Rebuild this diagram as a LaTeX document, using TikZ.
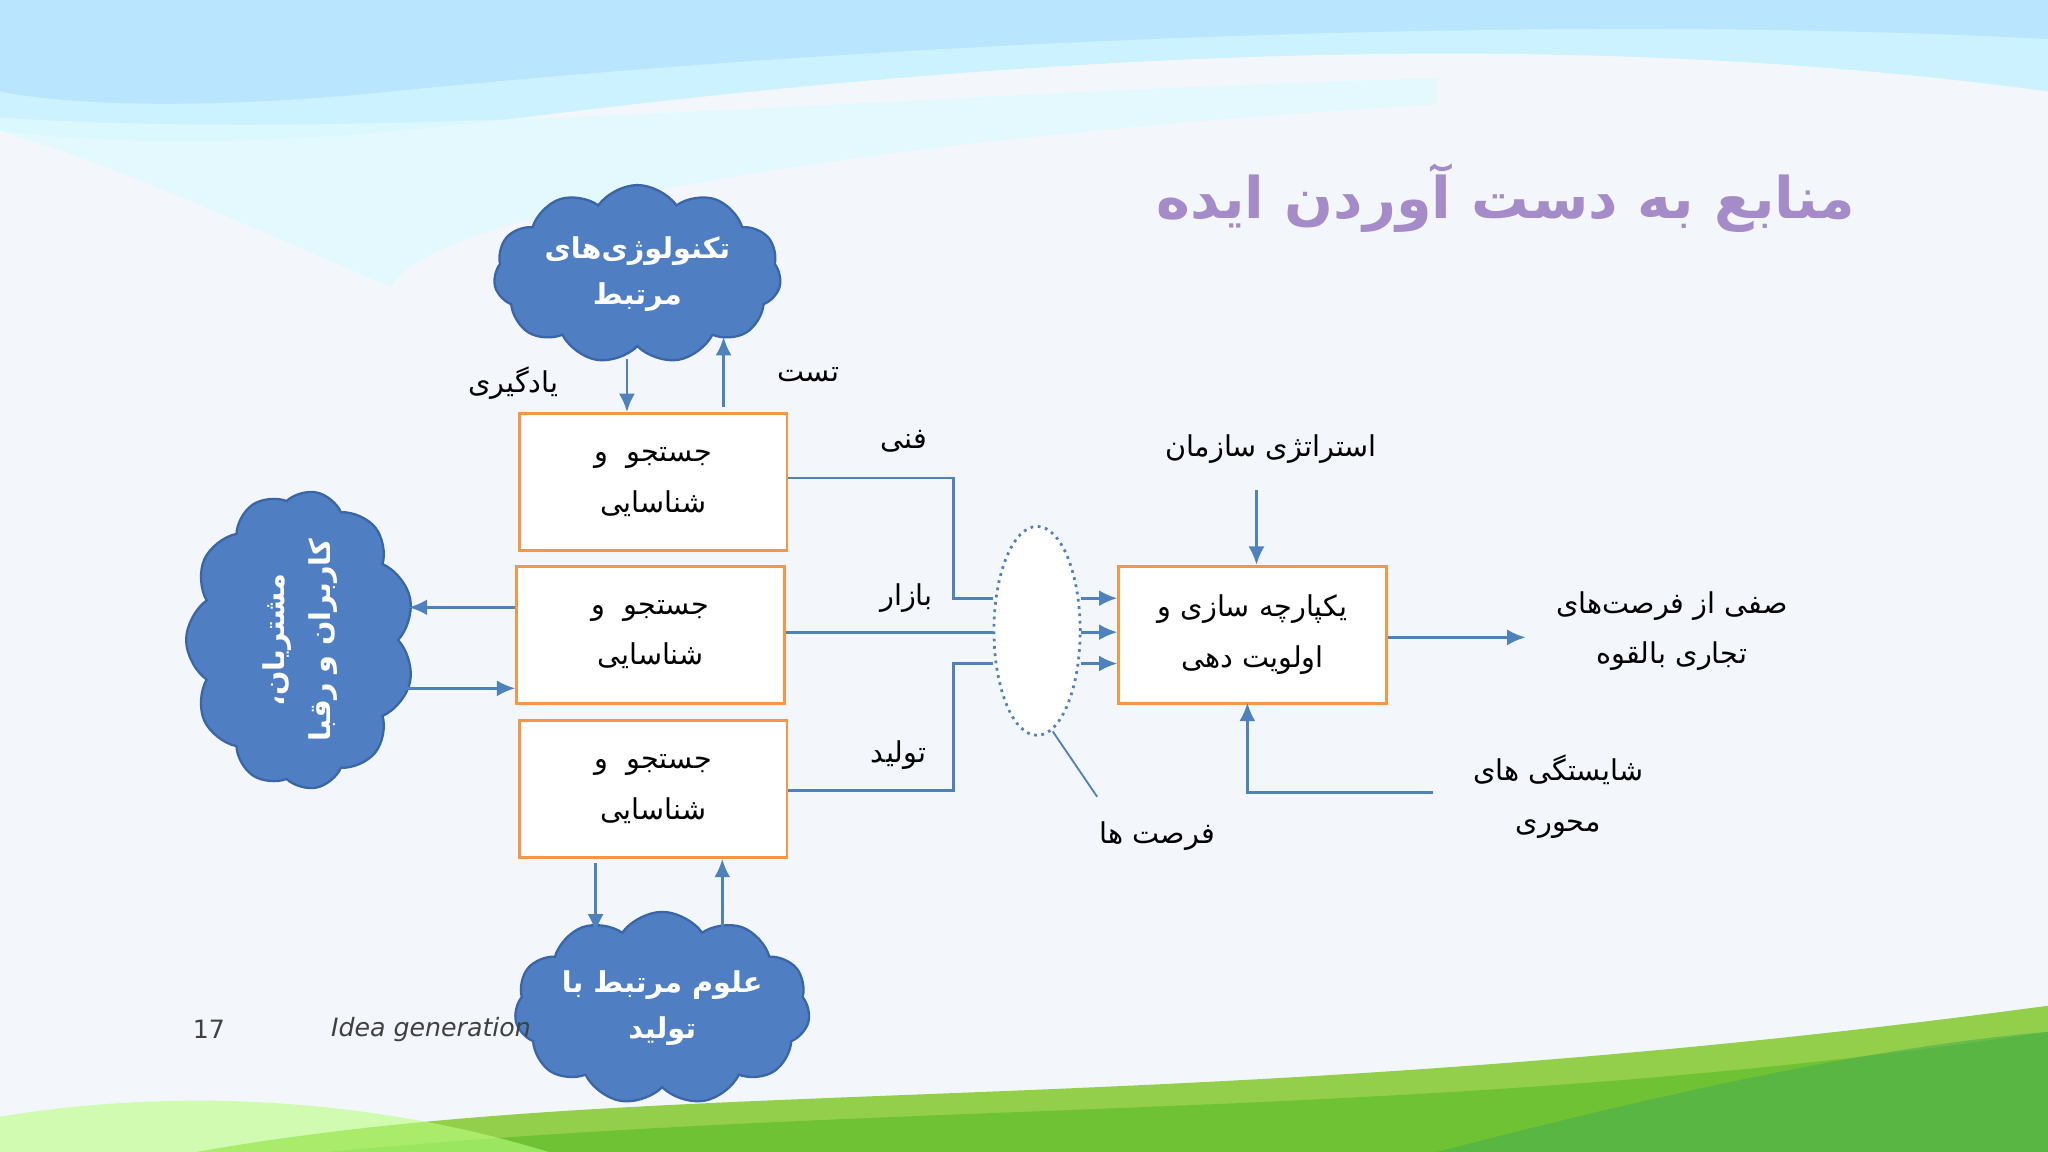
\documentclass[tikz,border=0pt]{standalone}
\usepackage{fontspec}
\usetikzlibrary{shapes.symbols,shapes.geometric,arrows.meta}
\TeXXeTstate=1
\newfontfamily\fa[Script=Arabic]{DejaVu Sans}
\setmainfont{DejaVu Sans}
\definecolor{lineblue}{HTML}{4F81BD}
\definecolor{cloudblue}{HTML}{4F7FC2}
\definecolor{cloudedge}{HTML}{3A66A8}
\definecolor{boxorange}{HTML}{F79646}
\definecolor{titlepurple}{HTML}{A58BC8}
\definecolor{bg}{HTML}{F3F7FB}
\tikzset{
  ln/.style={lineblue, line width=1.2pt},
  arr/.style={ln, -{Latex[length=8pt,width=7pt]}},
  ibox/.style={draw=boxorange, line width=1.2pt, fill=white, minimum width=4.1cm, minimum height=2.1cm, align=center, font=\fa\fontsize{12.5}{22}\selectfont},
  cl/.style={cloud, cloud puffs=11, cloud puff arc=110, aspect=1.8, draw=cloudedge, fill=cloudblue, line width=1pt, text=white, align=center, inner sep=0pt, font=\fa\bfseries\fontsize{12.5}{20}\selectfont},
  lbl/.style={align=center, font=\fa\fontsize{12.5}{22}\selectfont},
}
\begin{document}
\begin{tikzpicture}[x=0.02cm,y=-0.02cm]
\useasboundingbox (0,0) rectangle (1568,882);
\fill[bg] (0,0) rectangle (1568,882);
% sky
\fill[blue!25!cyan!20] (0,0) -- (1568,0) -- (1568,70) .. controls (1200,20) and (800,40) .. (400,90) .. controls (200,115) and (80,110) .. (0,100) -- cycle;
\fill[blue!40!cyan!30,opacity=0.7] (0,0) -- (1568,0) -- (1568,30) .. controls (1200,10) and (700,30) .. (300,70) .. controls (150,85) and (50,80) .. (0,70) -- cycle;
\fill[blue!15!cyan!12,opacity=0.8] (0,100) .. controls (100,130) and (250,200) .. (300,220) .. controls (320,170) and (600,110) .. (1100,80) -- (1100,60) .. controls (700,70) and (300,110) .. (0,90) -- cycle;
% grass
\fill[green!55!black!60!yellow!70] (150,882) .. controls (500,820) and (900,860) .. (1568,770) -- (1568,882) -- cycle;
\fill[green!45!lime!70!black!80] (250,882) .. controls (700,840) and (1100,860) .. (1568,790) -- (1568,882) -- cycle;
\fill[green!55!black!70,opacity=0.6] (1100,882) .. controls (1300,830) and (1450,800) .. (1568,790) -- (1568,882) -- cycle;
\fill[green!40!lime!50,opacity=0.6] (0,855) .. controls (150,830) and (300,845) .. (420,882) -- (0,882) -- cycle;
% title
\node[text=titlepurple, font=\fa\bfseries\fontsize{25}{30}\selectfont] (title) at (1153,152) {\beginR منابع به دست آوردن ایده\endR};
% clouds
\node[cl, minimum width=4.4cm, minimum height=2.2cm] (ctop) at (488,210) {\beginR تکنولوژی‌های\endR\\\beginR مرتبط\endR};
\node[cl, minimum width=3.9cm, minimum height=3.5cm, rotate=90] (cleft) at (230,490) {\beginR مشتریان،\endR\\\beginR کاربران و رقبا\endR};
\node[cl, minimum width=4.4cm, minimum height=2.0cm] (cbot) at (507,772) {\beginR علوم مرتبط با\endR\\\beginR تولید\endR};
% boxes
\node[ibox] (b1) at (500,369) {\beginR جستجو\ \ و\endR\\\beginR شناسایی\endR};
\node[ibox] (b2) at (498,486) {\beginR جستجو\ \ و\endR\\\beginR شناسایی\endR};
\node[ibox] (b3) at (500,604) {\beginR جستجو\ \ و\endR\\\beginR شناسایی\endR};
\node[ibox] (br) at (959,486) {\beginR یکپارچه سازی و\endR\\\beginR اولویت دهی\endR};
\node[ellipse, draw=lineblue, dotted, line width=1.2pt, fill=white, minimum width=1.32cm, minimum height=3.2cm] (ell) at (794,483) {};
% connectors
\coordinate (e1) at (760,458); \coordinate (e2) at (760,484); \coordinate (e3) at (760,508);
\draw[ln] (b1.east |- 0,366) -- (730,366) -- (730,458) -- (e1);
\draw[ln] (b2.east |- 0,484) -- (e2);
\draw[ln] (b3.east |- 0,605) -- (730,605) -- (730,508) -- (e3);
\draw[arr] (828,458) -- (br.west |- 0,458);
\draw[arr] (828,484) -- (br.west |- 0,484);
\draw[arr] (828,508) -- (br.west |- 0,508);
\node[lbl] (lf) at (692,338) {\beginR فنی\endR};
\node[lbl] (lb) at (694,458) {\beginR بازار\endR};
\node[lbl] (lt) at (688,578) {\beginR تولید\endR};
\node[lbl] (lo) at (886,640) {\beginR فرصت ها\endR};
\draw[lineblue, line width=0.8pt] (806,560) -- (840,610);
\node[lbl] (ls) at (973,344) {\beginR استراتژی سازمان\endR};
\coordinate (s0) at (962,375);
\draw[arr] (s0) -- (br.north -| s0);
\coordinate (out) at (1168,488);
\draw[arr] (br.east |- out) -- (out);
\node[lbl] (lq) at (1280,483) {\beginR صفی از فرصت‌های\endR\\\beginR تجاری بالقوه\endR};
\node[lbl] (lc) at (1193,610) {\beginR شایستگی های\endR\\\beginR محوری\endR};
\coordinate (c0) at (1097,607);
\draw[arr] (c0) -- (955,607) -- (955,538);
% top cloud arrows
\coordinate (t1) at (480,275); \coordinate (t2) at (554,258);
\draw[arr] (t1) -- (b1.north -| t1);
\draw[arr] (b1.north -| t2) ++(0,-4) -- (t2);
\node[lbl] (ly) at (393,293) {\beginR یادگیری\endR};
\node[lbl] (lts) at (619,287) {\beginR تست\endR};
% left
\coordinate (l1) at (313,465); \coordinate (l2) at (311,527);
\draw[arr] (b2.west |- l1) -- (l1);
\draw[arr] (l2) -- (b2.west |- l2);
% bottom
\coordinate (d1) at (456,714); \coordinate (d2) at (553,712);
\draw[arr] (b3.south -| d1) ++(0,3) -- (d1);
\draw[arr] (d2) -- (b3.south -| d2);
% footer
\node[font=\fontsize{11}{13}\selectfont, text=black!75] (pg) at (160,788) {17};
\node[font=\itshape\fontsize{11}{13}\selectfont, text=black!75] (ig) at (330,788) {Idea generation};
\end{tikzpicture}
\end{document}
